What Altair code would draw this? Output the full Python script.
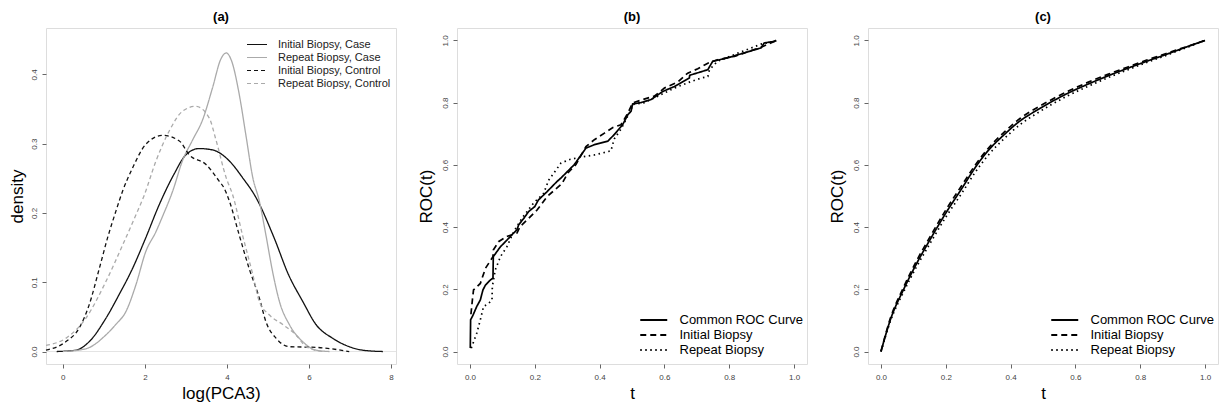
import altair as alt
import pandas as pd

FONT = "Liberation Sans"

# ---------------- Panel (a): densities of log(PCA3) ----------------
a_names = ["Initial Biopsy, Case", "Repeat Biopsy, Case",
           "Initial Biopsy, Control", "Repeat Biopsy, Control"]

a_ic_x = [-0.15, 0.32, 0.64, 1.05, 1.37, 1.70, 2.02, 2.35, 2.71, 3.0, 3.32, 3.65,
          4.06, 4.38, 4.71, 5.15, 5.5, 5.85, 6.17, 6.58, 6.98, 7.3, 7.8]
a_ic_y = [0.0, 0.002, 0.014, 0.048, 0.082, 0.12, 0.164, 0.212, 0.256, 0.284, 0.293, 0.291,
          0.275, 0.251, 0.222, 0.164, 0.111, 0.072, 0.039, 0.019, 0.007, 0.002, 0.0]

a_rc_x = [0.0, 0.56, 1.05, 1.29, 1.54, 1.78, 2.02, 2.27, 2.43, 2.68, 2.92, 3.16, 3.41,
          3.65, 3.85, 3.98, 4.11, 4.30, 4.46, 4.63, 4.79, 4.95, 5.11, 5.28, 5.52, 5.85,
          6.17, 6.5]
a_rc_y = [0.0, 0.004, 0.024, 0.039, 0.058, 0.096, 0.144, 0.173, 0.195, 0.232, 0.276,
          0.305, 0.335, 0.381, 0.422, 0.431, 0.420, 0.371, 0.313, 0.251, 0.217, 0.168,
          0.116, 0.072, 0.039, 0.014, 0.002, 0.0]

a_ik_x = [-0.41, 0.07, 0.40, 0.64, 0.89, 1.09, 1.29, 1.46, 1.70, 2.02, 2.43, 2.84, 3.08,
          3.49, 3.81, 3.93, 4.06, 4.30, 4.54, 4.79, 4.95, 5.20, 5.52, 6.17, 6.98]
a_ik_y = [0.002, 0.014, 0.034, 0.067, 0.12, 0.164, 0.202, 0.232, 0.265, 0.299, 0.312,
          0.304, 0.284, 0.270, 0.246, 0.236, 0.217, 0.168, 0.12, 0.077, 0.043, 0.019,
          0.007, 0.006, 0.0]

a_rk_x = [-0.41, 0.07, 0.56, 1.05, 1.46, 1.78, 1.98, 2.27, 2.59, 2.92, 3.24, 3.57, 3.73,
          3.98, 4.14, 4.38, 4.63, 4.79, 5.03, 5.36, 5.68, 5.93, 6.33]
a_rk_y = [0.009, 0.019, 0.048, 0.101, 0.154, 0.197, 0.225, 0.275, 0.318, 0.347, 0.354,
          0.337, 0.306, 0.251, 0.226, 0.168, 0.111, 0.072, 0.053, 0.039, 0.024, 0.007, 0.0]

a_x_ticks = [0, 2, 4, 6, 8]
a_y_ticks = [0.0, 0.1, 0.2, 0.3, 0.4]

# ---------------- Panel (b): empirical ROC curves ----------------
roc_names = ["Common ROC Curve", "Initial Biopsy", "Repeat Biopsy"]

b_com_t = [0.001, 0.002, 0.009, 0.021, 0.032, 0.04, 0.048, 0.063, 0.071, 0.072, 0.094,
           0.114, 0.129, 0.145, 0.15, 0.166, 0.181, 0.2, 0.211, 0.238, 0.268, 0.281,
           0.322, 0.358, 0.384, 0.425, 0.445, 0.471, 0.487, 0.497, 0.502, 0.527, 0.559,
           0.595, 0.631, 0.677, 0.678, 0.734, 0.749, 0.795, 0.898, 0.908, 0.939, 0.945]
b_com_r = [0.011, 0.102, 0.116, 0.145, 0.166, 0.198, 0.214, 0.23, 0.236, 0.305, 0.337,
           0.358, 0.375, 0.391, 0.407, 0.428, 0.45, 0.466, 0.487, 0.514, 0.546, 0.558,
           0.601, 0.654, 0.665, 0.676, 0.697, 0.729, 0.761, 0.772, 0.796, 0.8, 0.81,
           0.836, 0.852, 0.879, 0.888, 0.906, 0.933, 0.944, 0.976, 0.992, 0.997, 1.0]

b_ini_t = [0.003, 0.008, 0.011, 0.032, 0.048, 0.071, 0.072, 0.088, 0.114, 0.145, 0.155,
           0.181, 0.207, 0.238, 0.284, 0.302, 0.327, 0.358, 0.384, 0.415, 0.441, 0.466,
           0.487, 0.502, 0.533, 0.569, 0.6, 0.641, 0.672, 0.703, 0.734, 0.764, 0.816,
           0.898, 0.939, 0.945]
b_ini_r = [0.12, 0.171, 0.198, 0.219, 0.268, 0.305, 0.326, 0.353, 0.37, 0.381, 0.402,
           0.428, 0.455, 0.498, 0.54, 0.574, 0.601, 0.659, 0.681, 0.702, 0.72, 0.729,
           0.766, 0.799, 0.81, 0.821, 0.847, 0.866, 0.895, 0.909, 0.927, 0.938, 0.949,
           0.978, 0.997, 1.0]

b_rep_t = [0.004, 0.021, 0.032, 0.042, 0.058, 0.068, 0.069, 0.078, 0.094, 0.114, 0.135,
           0.16, 0.196, 0.227, 0.243, 0.281, 0.31, 0.343, 0.384, 0.435, 0.445, 0.466,
           0.497, 0.502, 0.538, 0.59, 0.631, 0.682, 0.713, 0.734, 0.739, 0.764, 0.836,
           0.898, 0.939, 0.945]
b_rep_r = [0.011, 0.059, 0.102, 0.145, 0.155, 0.166, 0.209, 0.262, 0.305, 0.337, 0.385,
           0.428, 0.477, 0.508, 0.551, 0.606, 0.618, 0.625, 0.632, 0.645, 0.683, 0.715,
           0.777, 0.794, 0.8, 0.826, 0.847, 0.868, 0.879, 0.884, 0.906, 0.933, 0.963,
           0.988, 0.997, 1.0]

# ---------------- Panel (c): smooth ROC curves ----------------
c_t = [0.0, 0.03, 0.07, 0.11, 0.15, 0.2, 0.25, 0.29, 0.33, 0.38, 0.43, 0.48, 0.53,
       0.58, 0.64, 0.7, 0.76, 0.82, 0.88, 0.94, 1.0]
c_com_r = [0.0, 0.105, 0.2, 0.283, 0.357, 0.445, 0.525, 0.59, 0.645, 0.697, 0.742,
           0.775, 0.805, 0.832, 0.86, 0.886, 0.91, 0.933, 0.955, 0.978, 1.0]
c_ini_r = [0.0, 0.11, 0.207, 0.292, 0.366, 0.455, 0.535, 0.598, 0.652, 0.705, 0.75,
           0.783, 0.812, 0.838, 0.866, 0.891, 0.914, 0.937, 0.958, 0.979, 1.0]
c_rep_r = [0.0, 0.1, 0.192, 0.273, 0.345, 0.432, 0.51, 0.575, 0.63, 0.684, 0.73,
           0.765, 0.796, 0.824, 0.853, 0.88, 0.905, 0.929, 0.952, 0.976, 1.0]

roc_ticks = [0.0, 0.2, 0.4, 0.6, 0.8, 1.0]


def frame(names, xs, ys, xname, yname):
    rows = []
    for n, xl, yl in zip(names, xs, ys):
        for i, (xv, yv) in enumerate(zip(xl, yl)):
            rows.append({"series": n, xname: xv, yname: yv, "i": i})
    return pd.DataFrame(rows)


df_a = frame(a_names, [a_ic_x, a_rc_x, a_ik_x, a_rk_x],
             [a_ic_y, a_rc_y, a_ik_y, a_rk_y], "x", "d")
df_b = frame(roc_names, [b_com_t, b_ini_t, b_rep_t],
             [b_com_r, b_ini_r, b_rep_r], "t", "r")
df_c = frame(roc_names, [c_t, c_t, c_t], [c_com_r, c_ini_r, c_rep_r], "t", "r")

W, H = 350, 336
LINE_SYMBOL = "M-2,0H2"


def xaxis(vals, fmt, title):
    return alt.Axis(values=vals, format=fmt, title=title, grid=False, domain=False,
                    tickSize=4, tickColor="#666666", labelFontSize=8,
                    labelColor="#444444", labelPadding=5, labelFont=FONT,
                    titleFont=FONT, titleFontSize=17, titleFontWeight="normal",
                    titleColor="#000000", titleY=29, titleBaseline="middle",
                    titleX=W / 2, titleAlign="center")


def yaxis(vals, fmt, title, tx):
    return alt.Axis(values=vals, format=fmt, title=title, grid=False, domain=False,
                    tickSize=4, tickColor="#666666", labelFontSize=8,
                    labelColor="#444444", labelPadding=4, labelAngle=270,
                    labelAlign="center", labelBaseline="bottom", labelFont=FONT,
                    titleFont=FONT, titleFontSize=17, titleFontWeight="normal",
                    titleColor="#000000", titleAngle=270, titleX=tx, titleY=H / 2,
                    titleAlign="center", titleBaseline="middle")


# Panel (a)
leg_a = alt.Legend(title=None, orient="none", legendX=205, legendY=10.5, padding=0,
                   labelFontSize=11, labelFont=FONT, labelColor="#222222",
                   symbolType=LINE_SYMBOL, symbolSize=100, symbolStrokeWidth=1.2,
                   labelOffset=15, rowPadding=2)
xa = alt.X("x:Q", scale=alt.Scale(domain=[-0.41, 8.12], nice=False, zero=False),
           axis=xaxis(a_x_ticks, "d", "log(PCA3)"))
ya = alt.Y("d:Q", scale=alt.Scale(domain=[-0.018, 0.467], nice=False, zero=False),
           axis=yaxis(a_y_ticks, ".1f", "density", -28.5))

zero_line = alt.Chart(pd.DataFrame({"x": [0.0], "d": [0.0]})).mark_rule(
    color="#e4e4e4", strokeWidth=1).encode(y=ya)
lines_a = alt.Chart(df_a).mark_line(strokeWidth=1.3, interpolate="monotone").encode(
    x=xa, y=ya,
    color=alt.Color("series:N", scale=alt.Scale(
        domain=a_names, range=["#111111", "#aaaaaa", "#111111", "#aaaaaa"]), legend=leg_a),
    strokeDash=alt.StrokeDash("series:N", scale=alt.Scale(
        domain=a_names, range=[[1, 0], [1, 0], [4, 3], [4, 3]]), legend=leg_a),
    order=alt.Order("i:Q"),
)
panel_a = alt.layer(zero_line, lines_a).properties(width=W, height=H, title="(a)")


def roc_panel(df, title, interp):
    leg = alt.Legend(title=None, orient="none", legendX=188.75, legendY=284, padding=0,
                     labelFontSize=13, labelFont=FONT, labelColor="#000000",
                     symbolType=LINE_SYMBOL, symbolSize=182, symbolStrokeWidth=1.8,
                     labelOffset=17.75, rowPadding=0)
    return alt.Chart(df).mark_line(strokeWidth=1.7, interpolate=interp).encode(
        x=alt.X("t:Q", scale=alt.Scale(domain=[-0.04, 1.04], nice=False, zero=False),
                axis=xaxis(roc_ticks, ".1f", "t")),
        y=alt.Y("r:Q", scale=alt.Scale(domain=[-0.04, 1.04], nice=False, zero=False),
                axis=yaxis(roc_ticks, ".1f", "ROC(t)", -31)),
        color=alt.Color("series:N", scale=alt.Scale(
            domain=roc_names, range=["#000000", "#000000", "#000000"]), legend=leg),
        strokeDash=alt.StrokeDash("series:N", scale=alt.Scale(
            domain=roc_names, range=[[1, 0], [6, 4], [1.5, 3.5]]), legend=leg),
        order=alt.Order("i:Q"),
    ).properties(width=W, height=H, title=title)


panel_b = roc_panel(df_b, "(b)", "linear")
panel_c = roc_panel(df_c, "(c)", "monotone")

chart = alt.hconcat(panel_a, panel_b, panel_c, spacing=61, bounds="flush").resolve_scale(
    color="independent", strokeDash="independent"
).resolve_legend(
    color="independent", strokeDash="independent"
).properties(
    padding={"left": 0, "top": 2, "right": 0, "bottom": 0}
).configure_view(
    stroke="#808080", strokeWidth=1
).configure_title(
    font=FONT, fontSize=15, fontWeight="bold", offset=6, color="#000000"
).configure(font=FONT)

chart.save("out.html", embed_options={"renderer": "svg", "actions": False})
